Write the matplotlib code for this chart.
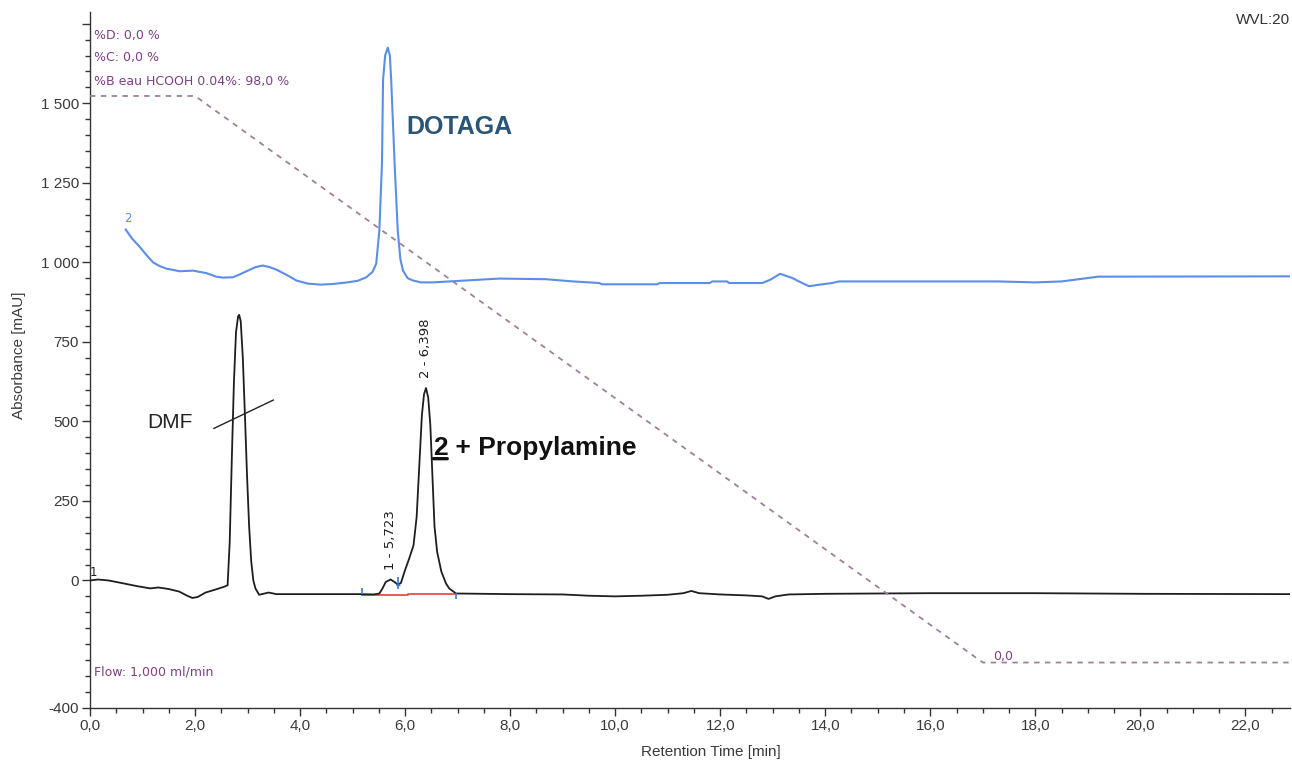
import matplotlib
matplotlib.use("Agg")
import matplotlib.pyplot as plt
from matplotlib.ticker import FixedLocator, MultipleLocator, FuncFormatter

# ---- chromatogram 1 (black): compound 2 + propylamine ----
t1 = [0.00, 0.15, 0.35, 0.60, 0.90, 1.15, 1.30, 1.50, 1.70, 1.85, 1.95, 2.05,
      2.20, 2.40, 2.55, 2.62, 2.66, 2.70, 2.74, 2.78, 2.82, 2.84, 2.87, 2.91,
      2.95, 2.99, 3.03, 3.07, 3.11, 3.15, 3.22, 3.30, 3.40, 3.55, 4.00, 5.00,
      5.17, 5.40, 5.51, 5.57, 5.63, 5.723, 5.80, 5.86, 5.92, 5.99, 6.08, 6.16,
      6.22, 6.27, 6.32, 6.36, 6.398, 6.44, 6.48, 6.52, 6.56, 6.61, 6.69, 6.78,
      6.84, 6.97, 7.50, 8.00, 9.00, 9.50, 10.00, 10.50, 11.00, 11.30, 11.45,
      11.60, 12.00, 12.50, 12.80, 12.92, 13.05, 13.30, 14.00, 16.00, 18.00,
      20.00, 22.85]
a1 = [0, 3, 0, -8, -18, -25, -22, -27, -35, -48, -55, -52,
      -38, -28, -20, -15, 120, 380, 620, 780, 830, 835, 815, 700,
      520, 330, 170, 60, 0, -25, -45, -42, -38, -43, -43, -43,
      -43, -44, -41, -25, -5, 3, -5, -13, -8, 28, 70, 110,
      200, 360, 520, 585, 605, 575, 490, 330, 170, 90, 28, -10,
      -25, -41, -42, -43, -44, -48, -50, -48, -45, -40, -33,
      -40, -44, -47, -50, -58, -50, -44, -42, -40, -40,
      -42, -43]

# ---- chromatogram 2 (blue): DOTAGA ----
t2 = [0.68, 0.80, 0.95, 1.08, 1.20, 1.33, 1.46, 1.71, 1.96, 2.22, 2.40, 2.53,
      2.72, 2.85, 2.98, 3.15, 3.29, 3.42, 3.55, 3.75, 3.93, 4.15, 4.40, 4.63,
      4.90, 5.10, 5.26, 5.38, 5.45, 5.51, 5.56, 5.58, 5.62, 5.67, 5.71, 5.735,
      5.80, 5.86, 5.91, 5.96, 6.05, 6.15, 6.30, 6.53, 7.16, 7.79, 8.68, 9.20,
      9.70, 9.75, 10.80, 10.85, 11.80, 11.85, 12.13, 12.17, 12.80, 12.95, 13.14,
      13.37, 13.50, 13.69, 13.90, 14.13, 14.26, 17.30, 18.00, 18.50, 19.20, 22.85]
a2 = [1103, 1075, 1048, 1022, 1000, 988, 980, 972, 974, 966, 955, 952,
      953, 962, 972, 985, 990, 985, 977, 960, 943, 933, 930, 932,
      937, 942, 953, 970, 996, 1100, 1312, 1573, 1650, 1675, 1650, 1573,
      1312, 1100, 1010, 974, 950, 943, 937, 937, 943, 949, 947, 940,
      935, 931, 931, 935, 935, 940, 940, 935, 935, 945, 964,
      951, 940, 925, 930, 935, 940, 940, 937, 940, 955, 956]

# ---- solvent gradient (%B) ----
grad_t = [0.0, 2.0, 17.0, 22.85]
grad_b = [98.0, 98.0, 0.0, 0.0]

# ---- integrated peaks of chromatogram 1 ----
peak_num = [1, 2]
peak_rt = [5.723, 6.398]
peak_top = [3, 605]
integ_t = [5.17, 6.06, 6.06, 6.97]
integ_v = [-45, -45, -42, -42]
delim_t = [5.17, 5.86, 6.97]
delim_lo = [-44, -28, -57]
delim_hi = [-25, 12, -41]

# ---- axes ----
x_ticks = [0, 2, 4, 6, 8, 10, 12, 14, 16, 18, 20, 22]
y_ticks = [-400, 0, 250, 500, 750, 1000, 1250, 1500, 1750]

BLACK = "#1e1e1e"
BLUE = "#5b8ee6"
GRAD = "#a08098"
PURPLE = "#7d3f84"
TICK = "#3a3a3a"
SANS = ["Liberation Sans", "DejaVu Sans"]
SMALL = ["DejaVu Sans"]

W, H = 1292, 760
fig = plt.figure(figsize=(W / 100, H / 100), dpi=100)
x0, x1, ytop, ybot = 90, 1290, 12, 707.7
ax = fig.add_axes([x0 / W, (H - ybot) / H, (x1 - x0) / W, (ybot - ytop) / H])
ax.set_xlim(0, 22.85)
ax.set_ylim(-400, 1787)

for s in ("top", "right"):
    ax.spines[s].set_visible(False)
for s in ("left", "bottom"):
    ax.spines[s].set_color("#333333")
    ax.spines[s].set_linewidth(1.0)

ax.xaxis.set_major_locator(FixedLocator(x_ticks))
ax.xaxis.set_minor_locator(MultipleLocator(0.5))
ax.xaxis.set_major_formatter(FuncFormatter(lambda v, p: f"{v:.1f}".replace(".", ",")))


def yfmt(v, p):
    if v >= 1750:
        return ""
    iv = int(round(v))
    s = f"{abs(iv):,}".replace(",", " ")
    return ("-" if iv < 0 else "") + s


ax.yaxis.set_major_locator(FixedLocator(y_ticks))
ax.yaxis.set_minor_locator(MultipleLocator(50))
ax.yaxis.set_major_formatter(FuncFormatter(yfmt))
ax.tick_params(which="major", direction="out", length=6, width=1.0,
               color="#333333", labelsize=11, labelcolor=TICK, pad=2)
ax.tick_params(which="minor", direction="out", length=3.5, width=1.0, color="#333333")
for lab in ax.get_xticklabels() + ax.get_yticklabels():
    lab.set_family(SANS)

ax.set_xlabel("Retention Time [min]", fontsize=11, color=TICK, family=SANS)
ax.set_ylabel("Absorbance [mAU]", fontsize=11, color=TICK, family=SANS)
ax.xaxis.set_label_coords(0.5175, -0.053)
ax.yaxis.set_label_coords(-0.053, 0.507)

# traces
ax.plot(t2, a2, color=BLUE, lw=1.5, zorder=3)
ax.plot(t1, a1, color=BLACK, lw=1.3, zorder=4)

# integration baseline and delimiters
ax.plot(integ_t, integ_v, color="#e8403a", lw=1.2, zorder=3)
ax.vlines(delim_t, delim_lo, delim_hi, color="#3c78d8", lw=1.2, zorder=5)
ax.hlines(-13, 5.82, 5.90, color="#3c78d8", lw=1.0, zorder=5)

# peak labels
for n, rt, top in zip(peak_num, peak_rt, peak_top):
    ax.annotate(f"{n} - {rt:.3f}".replace(".", ","), xy=(rt, top),
                xytext=(0, 7), textcoords="offset points",
                rotation=90, ha="center", va="bottom",
                fontsize=9.5, color=BLACK, family=SMALL)

# trace numbers
ax.text(0.72, 1138, "2", color=BLUE, fontsize=8.5, family=SMALL, ha="center", va="center")
ax.text(0.06, 25, "1", color=BLACK, fontsize=8.5, family=SMALL, ha="center", va="center")

# compound annotations
ax.text(7.03, 1424, "DOTAGA", color="#2a5577", fontsize=18, fontweight="bold",
        family=SANS, ha="center", va="center")
ax.text(1.53, 498, "DMF", color="#222222", fontsize=15, family=SANS,
        ha="center", va="center")
ax.plot([2.36, 3.49], [478, 567], color="#222222", lw=1.0, zorder=5)

t_two = ax.text(6.53, 416, "2", color="#111111", fontsize=19, fontweight="bold",
                family=SANS, ha="left", va="center")
ax.annotate(" + Propylamine", xy=(1, 0), xycoords=t_two, ha="left", va="bottom",
            color="#111111", fontsize=19, fontweight="bold", family=SANS)
ax.annotate("", xy=(0.02, 0.06), xycoords=t_two, xytext=(0.98, 0.06), textcoords=t_two,
            arrowprops=dict(arrowstyle="-", lw=2.4, color="#111111",
                            shrinkA=0, shrinkB=0))

# gradient on its own scale: 98 %B and 0 %B at fixed heights of the absorbance axis
ax_g = ax.twinx()
y_at_98, y_at_0 = 1523.0, -258.0
k = (y_at_98 - y_at_0) / 98.0
ax_g.set_ylim((-400 - y_at_0) / k, (1787 - y_at_0) / k)
ax_g.set_xlim(ax.get_xlim())
ax_g.axis("off")
ax_g.plot(grad_t, grad_b, color=GRAD, lw=1.3, ls=(0, (3, 3)), zorder=2)

# method info
info = ["%D: 0,0 %", "%C: 0,0 %", "%B eau HCOOH 0.04%: 98,0 %"]
for i, s in enumerate(info):
    fig.text(94 / W, 1 - (35 + 23 * i) / H, s, color=PURPLE, fontsize=9,
             family=SMALL, ha="left", va="center")
fig.text(94 / W, 1 - 672 / H, "Flow: 1,000 ml/min", color=PURPLE, fontsize=9,
         family=SMALL, ha="left", va="center")
ax_g.text(17.2, 0, "0,0", color=PURPLE, fontsize=9, family=SMALL,
          ha="left", va="bottom", transform=ax_g.transData)
fig.text(1290 / W, 1 - 20 / H, "WVL:20", color="#333333", fontsize=11,
         family=SANS, ha="right", va="center")

fig.savefig("out.png", dpi=100, facecolor="white")
